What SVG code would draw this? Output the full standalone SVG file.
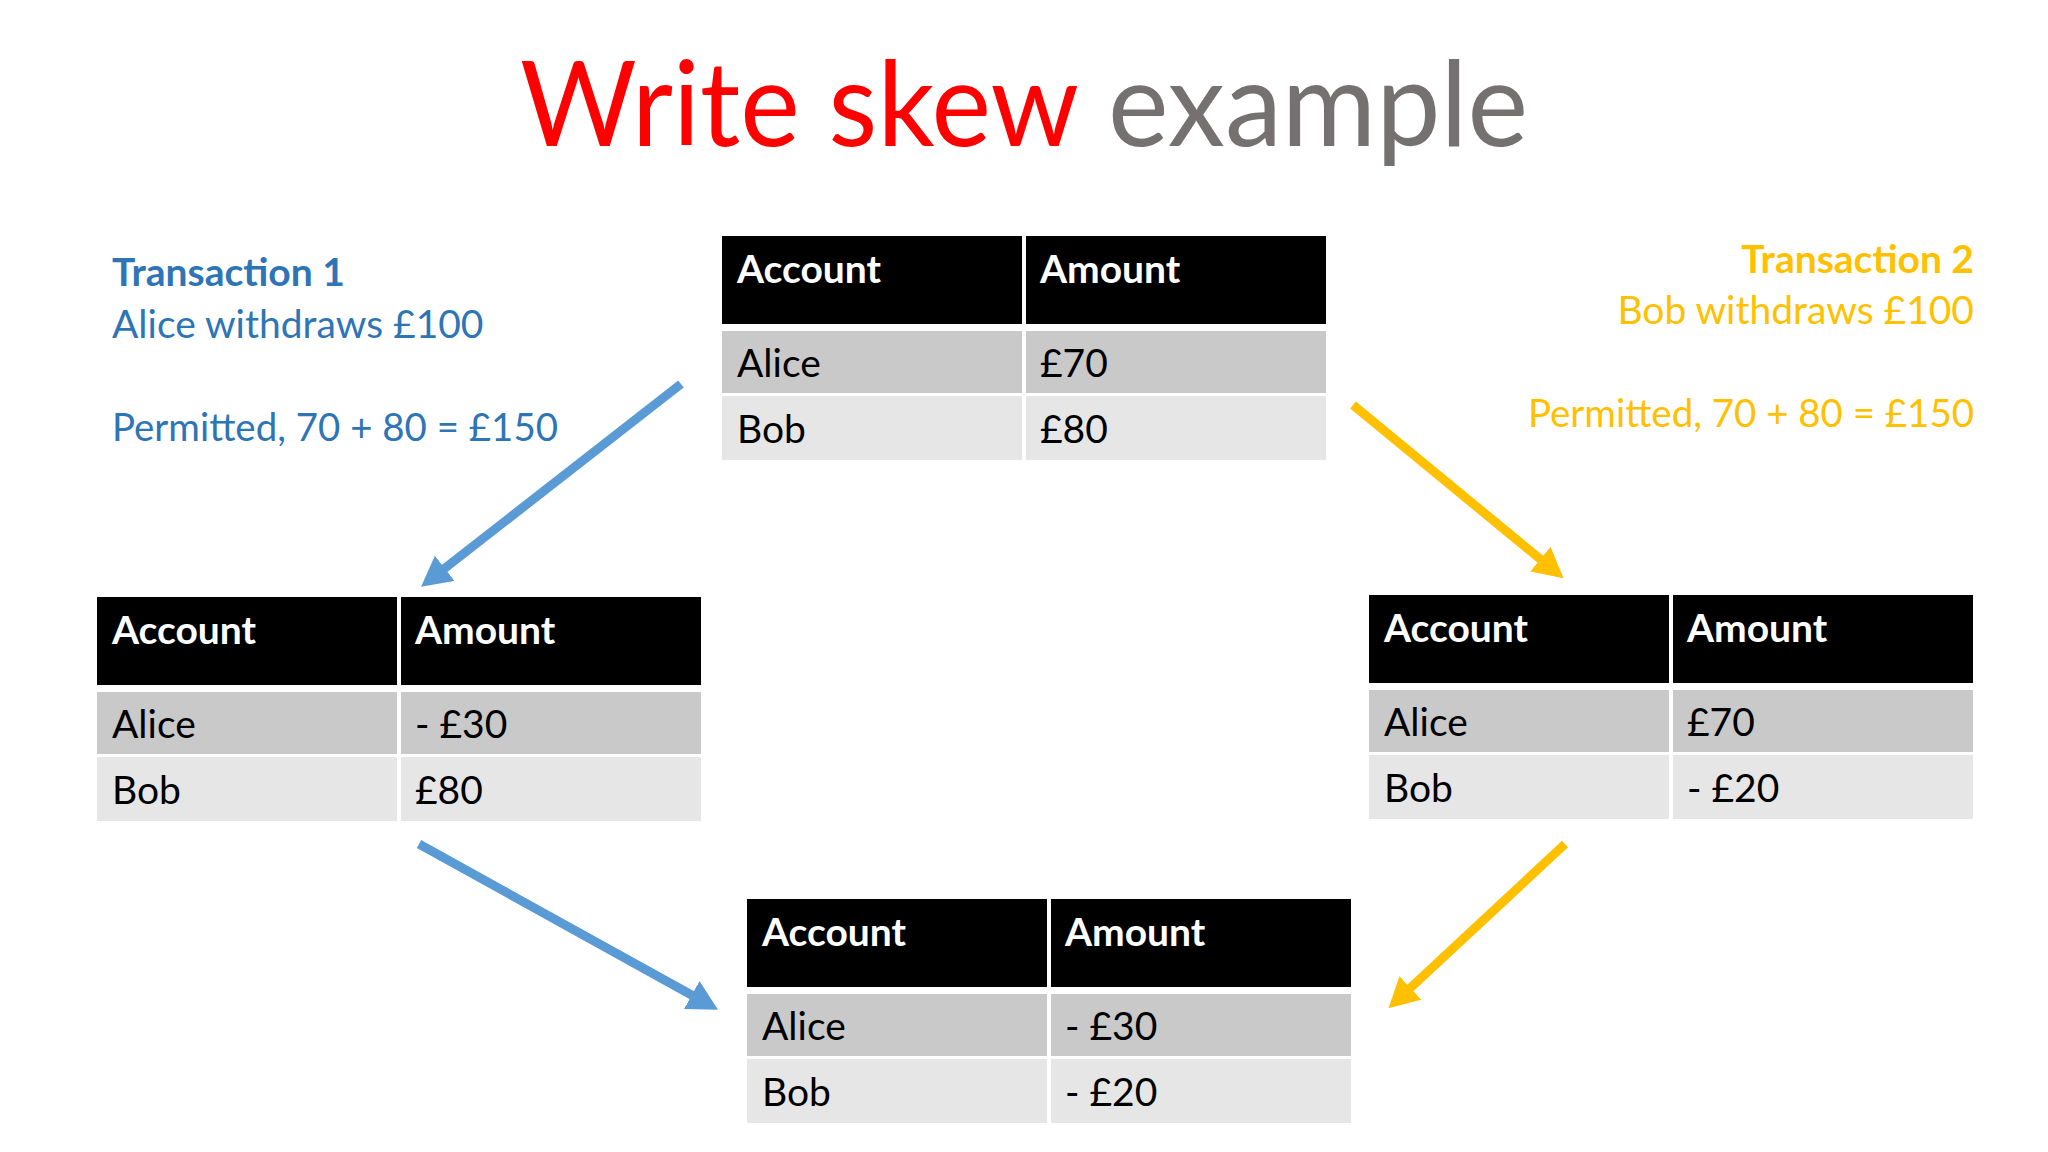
<svg xmlns="http://www.w3.org/2000/svg" width="2048" height="1152" viewBox="0 0 2048 1152">
<style>
  text { font-family: Lato, "Open Sans", "Liberation Sans", sans-serif; }
  .hdr { fill: #000000; }
  .r1 { fill: #C9C9C9; }
  .r2 { fill: #E7E6E6; }
  .th { fill: #FFFFFF; font-weight: bold; font-size: 39px; }
  .td { fill: #000000; font-size: 39px; }
  .t1 { fill: #2E75B6; font-size: 39px; }
  .t2 { fill: #FFC000; font-size: 39px; text-anchor: end; }
  .b { font-weight: bold; }
  .blue { stroke: #5B9BD5; stroke-width: 9; fill: none; }
  .yel { stroke: #FFC000; stroke-width: 9; fill: none; }
</style>
<defs>
  <marker id="hb" markerUnits="userSpaceOnUse" markerWidth="30" markerHeight="32" refX="6" refY="16" orient="auto" viewBox="0 0 30 32">
    <path d="M0,0 L30,16 L0,32 z" fill="#5B9BD5"/>
  </marker>
  <marker id="hy" markerUnits="userSpaceOnUse" markerWidth="30" markerHeight="32" refX="6" refY="16" orient="auto" viewBox="0 0 30 32">
    <path d="M0,0 L30,16 L0,32 z" fill="#FFC000"/>
  </marker>
</defs>
<rect width="2048" height="1152" fill="#FFFFFF"/>

<g id="title">
  <text x="520" y="146" font-size="118" fill="#FF0000" textLength="559" lengthAdjust="spacingAndGlyphs">Write skew</text>
  <text x="1108" y="146" font-size="118" fill="#767171" textLength="420" lengthAdjust="spacingAndGlyphs">example</text>
</g>

<g id="tx1-label">
  <text class="t1 b" x="112" y="286">Transaction 1</text>
  <text class="t1" x="112" y="338">Alice withdraws £100</text>
  <text class="t1" x="112" y="441" textLength="446" lengthAdjust="spacingAndGlyphs">Permitted, 70 + 80 = £150</text>
</g>

<g id="tx2-label">
  <text class="t2 b" x="1974" y="273">Transaction 2</text>
  <text class="t2" x="1974" y="324">Bob withdraws £100</text>
  <text class="t2" x="1974" y="427" textLength="446" lengthAdjust="spacingAndGlyphs">Permitted, 70 + 80 = £150</text>
</g>

<g id="table-initial" transform="translate(722,236)">
  <rect class="hdr" x="0" y="0" width="300" height="88"/>
  <rect class="hdr" x="304" y="0" width="300" height="88"/>
  <rect class="r1" x="0" y="95" width="300" height="62"/>
  <rect class="r1" x="304" y="95" width="300" height="62"/>
  <rect class="r2" x="0" y="160" width="300" height="64"/>
  <rect class="r2" x="304" y="160" width="300" height="64"/>
  <text class="th" x="15" y="47">Account</text>
  <text class="th" x="318" y="47">Amount</text>
  <text class="td" x="15" y="141">Alice</text>
  <text class="td" x="318" y="141">£70</text>
  <text class="td" x="15" y="207">Bob</text>
  <text class="td" x="318" y="207">£80</text>
</g>

<g id="table-tx1" transform="translate(97,597)">
  <rect class="hdr" x="0" y="0" width="300" height="88"/>
  <rect class="hdr" x="304" y="0" width="300" height="88"/>
  <rect class="r1" x="0" y="95" width="300" height="62"/>
  <rect class="r1" x="304" y="95" width="300" height="62"/>
  <rect class="r2" x="0" y="160" width="300" height="64"/>
  <rect class="r2" x="304" y="160" width="300" height="64"/>
  <text class="th" x="15" y="47">Account</text>
  <text class="th" x="318" y="47">Amount</text>
  <text class="td" x="15" y="141">Alice</text>
  <text class="td" x="318" y="141">- £30</text>
  <text class="td" x="15" y="207">Bob</text>
  <text class="td" x="318" y="207">£80</text>
</g>

<g id="table-tx2" transform="translate(1369,595)">
  <rect class="hdr" x="0" y="0" width="300" height="88"/>
  <rect class="hdr" x="304" y="0" width="300" height="88"/>
  <rect class="r1" x="0" y="95" width="300" height="62"/>
  <rect class="r1" x="304" y="95" width="300" height="62"/>
  <rect class="r2" x="0" y="160" width="300" height="64"/>
  <rect class="r2" x="304" y="160" width="300" height="64"/>
  <text class="th" x="15" y="47">Account</text>
  <text class="th" x="318" y="47">Amount</text>
  <text class="td" x="15" y="141">Alice</text>
  <text class="td" x="318" y="141">£70</text>
  <text class="td" x="15" y="207">Bob</text>
  <text class="td" x="318" y="207">- £20</text>
</g>

<g id="table-final" transform="translate(747,899)">
  <rect class="hdr" x="0" y="0" width="300" height="88"/>
  <rect class="hdr" x="304" y="0" width="300" height="88"/>
  <rect class="r1" x="0" y="95" width="300" height="62"/>
  <rect class="r1" x="304" y="95" width="300" height="62"/>
  <rect class="r2" x="0" y="160" width="300" height="64"/>
  <rect class="r2" x="304" y="160" width="300" height="64"/>
  <text class="th" x="15" y="47">Account</text>
  <text class="th" x="318" y="47">Amount</text>
  <text class="td" x="15" y="141">Alice</text>
  <text class="td" x="318" y="141">- £30</text>
  <text class="td" x="15" y="207">Bob</text>
  <text class="td" x="318" y="207">- £20</text>
</g>

<g id="connectors">
  <line class="blue" x1="681" y1="384" x2="440" y2="572" marker-end="url(#hb)"/>
  <line class="blue" x1="419" y1="844" x2="697" y2="998" marker-end="url(#hb)"/>
  <line class="yel" x1="1353" y1="405" x2="1545" y2="563" marker-end="url(#hy)"/>
  <line class="yel" x1="1565" y1="844" x2="1406" y2="992" marker-end="url(#hy)"/>
</g>
</svg>
